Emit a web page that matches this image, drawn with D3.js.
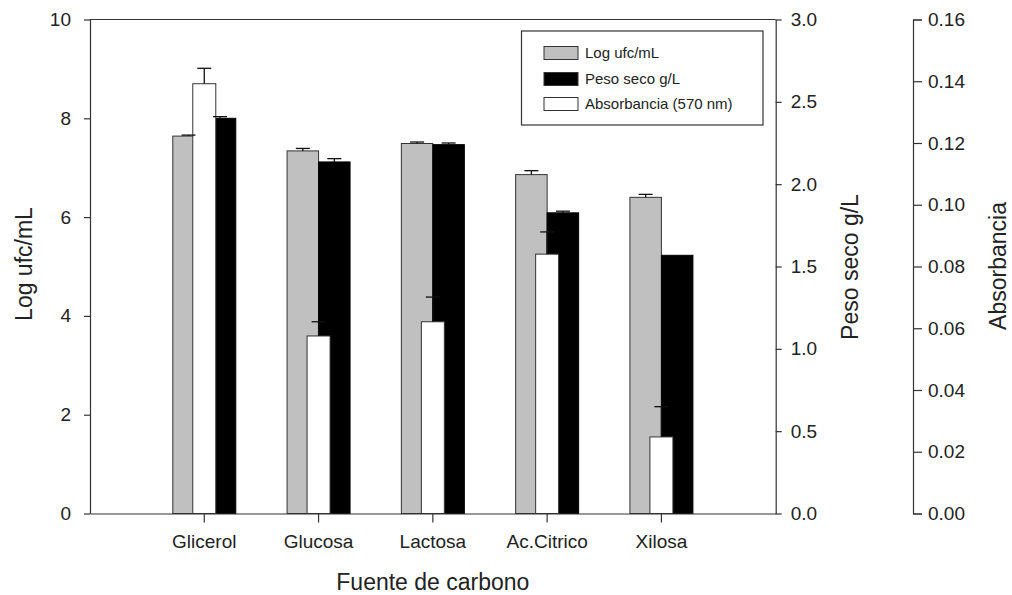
<!DOCTYPE html>
<html>
<head>
<meta charset="utf-8">
<script src="https://cdn.jsdelivr.net/npm/d3@7"></script>
<style>
  body { margin: 0; background: #fff; }
  svg text { font-family: Arial, "Liberation Sans", sans-serif; fill: #222; }
</style>
</head>
<body>
<div class="container"></div>
<script>
// data
var categories = ["Glicerol", "Glucosa", "Lactosa", "Ac.Citrico", "Xilosa"];
var logUfc    = [7.64, 7.34, 7.49, 6.86, 6.40];
var logUfcErr = [0.02, 0.05, 0.03, 0.08, 0.06];
var pesoSeco    = [2.40, 2.135, 2.24, 1.826, 1.568];
var pesoSecoErr = [0.01, 0.02, 0.01, 0.01, 0.0];
var absorb    = [0.1392, 0.0575, 0.0621, 0.0840, 0.0248];
var absorbErr = [0.0050, 0.0046, 0.0080, 0.0072, 0.0098];
var categoryLabels = ["Glicerol", "Glucosa", "Lactosa", "Ac.Citrico", "Xilosa"];
var logTicks  = [0, 2, 4, 6, 8, 10];
var pesoTicks = [0, 0.5, 1, 1.5, 2, 2.5, 3];
var absTicks  = [0, 0.02, 0.04, 0.06, 0.08, 0.10, 0.12, 0.14, 0.16];
var legendItems = ["Log ufc/mL", "Peso seco g/L", "Absorbancia (570 nm)"];

buildChart();

function buildChart() {

  /* ===== SET UP CHART ===== */
  var w = 1012, h = 595;
  var left = 90, right = 775.7, top = 19.5, bottom = 513.5;
  var absAxisX = 913;
  var ink = "#333";

  var svg = d3.select('.container')
    .append('svg')
    .attr('width', w)
    .attr('height', h);

  var x = d3.scaleBand()
    .domain(categories)
    .range([left, right])
    .paddingInner(0)
    .paddingOuter(0.5);

  var yLog  = d3.scaleLinear().domain([0, 10]).range([bottom, top]);
  var yPeso = d3.scaleLinear().domain([0, 3]).range([bottom, top]);
  var yAbs  = d3.scaleLinear().domain([0, 0.16]).range([bottom, top]);

  var half = 31.5;     // half width of a gray+black pair
  var whiteHalf = 11.5;
  var cap = 7;

  var rows = categories.map(function(c, i) {
    return {cat: c, log: logUfc[i], logErr: logUfcErr[i],
            peso: pesoSeco[i], pesoErr: pesoSecoErr[i],
            abs: absorb[i], absErr: absorbErr[i]};
  });
  function cx(d) { return x(d.cat) + x.bandwidth() / 2; }

  /* --- bars --- */
  svg.append('g').selectAll('rect')
    .data(rows).enter().append('rect')
    .attr('x', function(d) { return cx(d) - half; })
    .attr('y', function(d) { return yLog(d.log); })
    .attr('width', half)
    .attr('height', function(d) { return bottom - yLog(d.log); })
    .attr('fill', '#c0c0c0')
    .attr('stroke', ink).attr('stroke-width', 1);

  svg.append('g').selectAll('rect')
    .data(rows).enter().append('rect')
    .attr('x', function(d) { return cx(d); })
    .attr('y', function(d) { return yPeso(d.peso); })
    .attr('width', half)
    .attr('height', function(d) { return bottom - yPeso(d.peso); })
    .attr('fill', '#000')
    .attr('stroke', '#000').attr('stroke-width', 1);

  svg.append('g').selectAll('rect')
    .data(rows).enter().append('rect')
    .attr('x', function(d) { return cx(d) - whiteHalf; })
    .attr('y', function(d) { return yAbs(d.abs); })
    .attr('width', whiteHalf * 2)
    .attr('height', function(d) { return bottom - yAbs(d.abs); })
    .attr('fill', '#fff')
    .attr('stroke', ink).attr('stroke-width', 1);

  /* --- error bars (upper only) --- */
  function errBars(getX, getTop, getBase) {
    var g = svg.append('g').attr('stroke', '#111').attr('stroke-width', 1.3);
    rows.forEach(function(d) {
      var xx = getX(d), y1 = getTop(d), y0 = getBase(d);
      if (y0 - y1 < 0.5) return;
      g.append('line').attr('x1', xx).attr('x2', xx).attr('y1', y0).attr('y2', y1);
      g.append('line').attr('x1', xx - cap).attr('x2', xx + cap).attr('y1', y1).attr('y2', y1);
    });
  }
  errBars(function(d) { return cx(d) - half / 2; },
          function(d) { return yLog(d.log + d.logErr); },
          function(d) { return yLog(d.log); });
  errBars(function(d) { return cx(d) + half / 2; },
          function(d) { return yPeso(d.peso + d.pesoErr); },
          function(d) { return yPeso(d.peso); });
  errBars(function(d) { return cx(d); },
          function(d) { return yAbs(d.abs + d.absErr); },
          function(d) { return yAbs(d.abs); });

  /* ===== AXES ===== */
  function styleAxis(g) {
    g.selectAll('path, line').attr('stroke', ink).attr('stroke-width', 1.2);
    g.selectAll('text').style('font-size', '19px').attr('fill', '#222');
  }

  svg.append('g')
    .attr('transform', 'translate(' + left + ',0)')
    .call(d3.axisLeft(yLog).tickValues(logTicks).tickSize(6).tickSizeOuter(0).tickPadding(13))
    .call(styleAxis);

  svg.append('g')
    .attr('transform', 'translate(' + right + ',0)')
    .call(d3.axisRight(yPeso).tickValues(pesoTicks).tickFormat(d3.format('.1f'))
      .tickSize(6).tickSizeOuter(0).tickPadding(9))
    .call(styleAxis);

  svg.append('g')
    .attr('transform', 'translate(' + absAxisX + ',0)')
    .call(d3.axisRight(yAbs).tickValues(absTicks).tickFormat(d3.format('.2f'))
      .tickSize(9).tickSizeOuter(9).tickPadding(6))
    .call(styleAxis);

  svg.append('g')
    .attr('transform', 'translate(0,' + bottom + ')')
    .call(d3.axisBottom(x).tickFormat(function(d, i) { return categoryLabels[i]; })
      .tickSize(9).tickSizeOuter(0).tickPadding(12))
    .call(styleAxis);

  // top frame line
  svg.append('line')
    .attr('x1', left).attr('x2', right).attr('y1', top).attr('y2', top)
    .attr('stroke', ink).attr('stroke-width', 1.2);

  /* ===== LABELS ===== */
  svg.append('text')
    .attr('x', (left + right) / 2).attr('y', 590)
    .style('text-anchor', 'middle').style('font-size', '23px')
    .text('Fuente de carbono');

  svg.append('text')
    .attr('transform', 'translate(32,264) rotate(-90)')
    .style('text-anchor', 'middle').style('font-size', '23px')
    .text('Log ufc/mL');

  svg.append('text')
    .attr('transform', 'translate(858,267) rotate(-90)')
    .style('text-anchor', 'middle').style('font-size', '23px')
    .text('Peso seco g/L');

  svg.append('text')
    .attr('transform', 'translate(1006,266) rotate(-90)')
    .style('text-anchor', 'middle').style('font-size', '23px')
    .text('Absorbancia');

  /* ===== LEGEND ===== */
  var legendFill = ['#c0c0c0', '#000', '#fff'];
  var lg = svg.append('g');
  lg.append('rect')
    .attr('x', 521.5).attr('y', 31).attr('width', 241.5).attr('height', 94)
    .attr('fill', '#fff').attr('stroke', ink).attr('stroke-width', 1.2);
  var item = lg.selectAll('g.item')
    .data(legendItems).enter().append('g')
    .attr('class', 'item')
    .attr('transform', function(d, i) { return 'translate(544,' + [53, 79, 104][i] + ')'; });
  item.append('rect')
    .attr('x', 0).attr('y', -6.5).attr('width', 34).attr('height', 13)
    .attr('fill', function(d, i) { return legendFill[i]; })
    .attr('stroke', ink).attr('stroke-width', 1);
  item.append('text')
    .attr('x', 41).attr('dy', '0.35em')
    .style('font-size', '15px')
    .text(function(d) { return d; });
}
</script>
</body>
</html>
